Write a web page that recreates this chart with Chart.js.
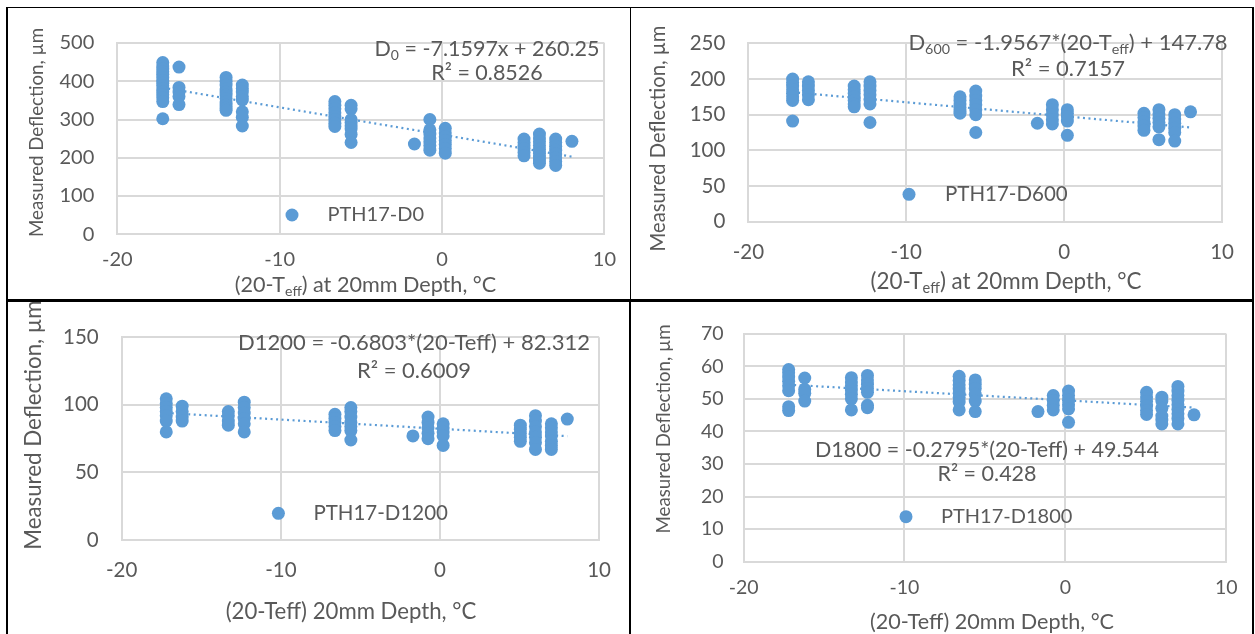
<!DOCTYPE html>
<html>
<head>
<meta charset="utf-8">
<script src="https://cdn.jsdelivr.net/npm/chart.js@4/dist/chart.umd.min.js"></script>
<style>
  body { margin: 0; background: #fff; width: 1255px; height: 634px; overflow: hidden; position: relative; }
  canvas { position: absolute; }
  .ln { position: absolute; background: #000; }
</style>
</head>
<body>
<canvas id="c1" width="621" height="290" style="left:8px;top:8px"></canvas>
<canvas id="c2" width="620" height="290" style="left:632px;top:8px"></canvas>
<canvas id="c3" width="621" height="332" style="left:8px;top:302px"></canvas>
<canvas id="c4" width="620" height="332" style="left:632px;top:302px"></canvas>

<div class="ln" style="left:6px;top:7px;width:1248px;height:1px"></div>
<div class="ln" style="left:6px;top:7px;width:2px;height:627px"></div>
<div class="ln" style="left:630px;top:7px;width:1px;height:292px"></div>
<div class="ln" style="left:629px;top:299px;width:2px;height:335px"></div>
<div class="ln" style="left:1252px;top:7px;width:2px;height:627px"></div>
<div class="ln" style="left:6px;top:299px;width:1248px;height:3px"></div>

<script>
// x position of each group of readings, (20-Teff) in °C
const colX = [-17.2, -16.2, -13.3, -12.3, -6.6, -5.6, -1.7, -0.75, 0.2, 5.05, 6.0, 7.0, 8.0];

// measured deflections per group (µm)
const d0Cols = [
  [449, 440, 432, 425, 418, 410, 402, 395, 388, 380, 372, 365, 357, 347, 302],
  [437, 384, 372, 360, 339],
  [410, 400, 390, 380, 372, 364, 355, 346, 338, 330, 324],
  [390, 381, 372, 360, 351, 320, 306, 283],
  [347, 337, 328, 318, 308, 300, 290, 282],
  [337, 328, 300, 292, 284, 276, 261, 240],
  [236],
  [300, 273, 262, 252, 242, 232, 220],
  [277, 265, 255, 245, 235, 224, 212],
  [249, 240, 232, 224, 214, 205],
  [262, 252, 242, 232, 222, 212, 202, 194, 186],
  [249, 240, 230, 220, 210, 200, 190, 180],
  [243]
];
const d600Cols = [
  [200, 195, 190, 185, 180, 175, 170, 141],
  [196, 190, 184, 178, 171],
  [190, 185, 180, 175, 170, 165, 161],
  [196, 190, 184, 178, 171, 165, 139],
  [175, 170, 165, 160, 155, 152],
  [183, 176, 170, 164, 157, 150, 125],
  [138],
  [164, 157, 150, 143, 137],
  [157, 152, 147, 141, 121],
  [152, 146, 140, 134, 128],
  [157, 151, 145, 139, 133, 115],
  [150, 144, 138, 131, 125, 113],
  [154]
];
const d1200Cols = [
  [104.5, 101, 98, 95, 92, 88, 80],
  [99, 95, 91, 88],
  [95, 92, 88, 85],
  [102, 98, 94, 90, 86, 80],
  [93, 90, 87, 84, 81],
  [98, 95, 91, 87, 84, 81, 74],
  [77],
  [91, 87, 83, 79, 75],
  [86, 83, 80, 77, 70],
  [85, 82, 79, 76, 73],
  [92, 88, 84, 80, 76, 72, 67],
  [86, 83, 80, 77, 73, 70, 67],
  [89.5]
];
const d1800Cols = [
  [59, 58, 56.7, 55.4, 54, 52.5, 47.6, 46.4],
  [56.4, 52.9, 51.7, 49.3],
  [56.5, 55.2, 54, 52.7, 51.4, 50, 46.6],
  [57.2, 55.8, 54.5, 53.2, 52, 48, 47.3],
  [56.9, 55.6, 54.3, 53, 51.7, 50.4, 49, 46.6],
  [55.8, 54.5, 53.2, 51.4, 49.3, 46.1],
  [46.1],
  [51, 49.5, 48, 46.6],
  [52.4, 51, 49.6, 48.2, 46.9, 42.8],
  [52, 50.6, 49.2, 47.8, 46.4, 45.2],
  [50.5, 49.3, 47.1, 44.7, 43.5, 42.3],
  [53.8, 52.4, 51, 49.6, 48.2, 46.8, 45.4, 44, 42.3],
  [45.1]
];

// linear trend lines printed on the charts
const seriesNames = ["PTH17-D0", "PTH17-D600", "PTH17-D1200", "PTH17-D1800"];
const slopes = [-7.1597, -1.9567, -0.6803, -0.2795];
const intercepts = [260.25, 147.78, 82.312, 49.544];
const yMaxes = [500, 250, 150, 70];
const ySteps = [100, 50, 50, 10];
const xTicks = [-20, -10, 0, 10];

const BLUE = "#5B9BD5";
const TXT = "#595959";
const FONT = "Lato, 'Open Sans', sans-serif";

// layout of each panel (page pixels)
const panels = [
  { id: "c1", left: 8, top: 8, w: 621, h: 290, plot: [117.3, 21.7, 614.7, 234.3], tick: 20, yPad: 23, xPad: 13,
    yTitle: { x: 37, y: 132.5, size: 18.7 },
    xTitle: { x: 365.5, y: 285, size: 21.6, segs: [["(20-T"], ["eff", 1], [") at 20mm Depth, °C"]] },
    eq: { x: 487, y: 49, y2: 73, size: 21.5, segs: [["D"], ["0", 1], [" = -7.1597x + 260.25"]], r2: "R² = 0.8526" },
    leg: { mx: 292, my: 215, tx: 327.5, size: 20 } },
  { id: "c2", left: 632, top: 8, w: 620, h: 290, plot: [748.4, 30, 1239, 221.7], tick: 20.5, yPad: 23, xPad: 18,
    yTitle: { x: 658, y: 138.5, size: 20.2 },
    xTitle: { x: 1006, y: 281.7, size: 22.4, segs: [["(20-T"], ["eff", 1], [") at 20mm Depth, °C"]] },
    eq: { x: 1068, y: 42.7, y2: 69.3, size: 22, segs: [["D"], ["600", 1], [" = -1.9567*(20-T"], ["eff", 1], [") + 147.78"]], r2: "R² = 0.7157" },
    leg: { mx: 909, my: 194.3, tx: 945, size: 20.5 } },
  { id: "c3", left: 8, top: 302, w: 621, h: 332, plot: [121.7, 319, 610.7, 540], tick: 20.5, yPad: 23, xPad: 18,
    yTitle: { x: 34, y: 425, size: 22.3 },
    xTitle: { x: 351, y: 611.7, size: 22.2, segs: [["(20-Teff) 20mm Depth, °C"]] },
    eq: { x: 414, y: 343.3, y2: 370.7, size: 22, segs: [["D1200 = -0.6803*(20-Teff) + 82.312"]], r2: "R² = 0.6009" },
    leg: { mx: 278.4, my: 513.3, tx: 313.4, size: 20.5 } },
  { id: "c4", left: 632, top: 302, w: 620, h: 332, plot: [743.6, 319, 1233.8, 561.7], tick: 19.5, yPad: 20, xPad: 14.5,
    yTitle: { x: 664, y: 429, size: 18.7 },
    xTitle: { x: 992, y: 621.7, size: 21.6, segs: [["(20-Teff) 20mm Depth, °C"]] },
    eq: { x: 987, y: 450, y2: 474.3, size: 21.5, segs: [["D1800 = -0.2795*(20-Teff) + 49.544"]], r2: "R² = 0.428" },
    leg: { mx: 906, my: 516.7, tx: 941, size: 20 } }
];

// text with subscript pieces, centred on (cx, cy)
function drawRich(ctx, segs, cx, cy, size) {
  const subSize = size * 0.65;
  let total = 0;
  segs.forEach(s => {
    ctx.font = (s[1] ? subSize : size) + "px " + FONT;
    total += ctx.measureText(s[0]).width;
  });
  let x = cx - total / 2;
  ctx.textAlign = "left";
  ctx.textBaseline = "middle";
  segs.forEach(s => {
    ctx.font = (s[1] ? subSize : size) + "px " + FONT;
    ctx.fillText(s[0], x, s[1] ? cy + size * 0.3 : cy);
    x += ctx.measureText(s[0]).width;
  });
}

const notesPlugin = {
  id: "notes",
  afterDraw(chart, args, p) {
    const ctx = chart.ctx;
    ctx.save();
    ctx.translate(-p.left, -p.top);
    ctx.fillStyle = TXT;
    // equation and R²
    drawRich(ctx, p.eq.segs, p.eq.x, p.eq.y, p.eq.size);
    drawRich(ctx, [[p.eq.r2]], p.eq.x, p.eq.y2, p.eq.size);
    // x title
    drawRich(ctx, p.xTitle.segs, p.xTitle.x, p.xTitle.y, p.xTitle.size);
    // y title
    ctx.save();
    ctx.translate(p.yTitle.x, p.yTitle.y);
    ctx.rotate(-Math.PI / 2);
    drawRich(ctx, [["Measured Deflection, µm"]], 0, 0, p.yTitle.size);
    ctx.restore();
    // legend
    ctx.fillStyle = BLUE;
    ctx.beginPath();
    ctx.arc(p.leg.mx, p.leg.my, 6.5, 0, Math.PI * 2);
    ctx.fill();
    ctx.fillStyle = TXT;
    ctx.font = p.leg.size + "px " + FONT;
    ctx.textAlign = "left";
    ctx.textBaseline = "middle";
    ctx.fillText(p.series, p.leg.tx, p.leg.my);
    ctx.restore();
  }
};

const allCols = [d0Cols, d600Cols, d1200Cols, d1800Cols];

panels.forEach((p, i) => {
  const pts = [];
  allCols[i].forEach((col, k) => col.forEach(v => pts.push({ x: colX[k], y: v })));
  const xMin = Math.min(...colX), xMax = Math.max(...colX);
  const trend = [xMin, xMax].map(x => ({ x: x, y: slopes[i] * x + intercepts[i] }));
  p.series = seriesNames[i];

  const [L, T, R, B] = p.plot;
  const ctx = document.getElementById(p.id).getContext("2d");
  new Chart(ctx, {
    type: "scatter",
    data: {
      datasets: [
        { label: seriesNames[i], data: pts, backgroundColor: BLUE, borderColor: BLUE, pointRadius: 6.5, pointHoverRadius: 6.5, borderWidth: 0 },
        { label: "trend", type: "line", data: trend, borderColor: BLUE, borderWidth: 2.2, borderDash: [2, 3.5], pointRadius: 0, fill: false }
      ]
    },
    options: {
      responsive: false,
      animation: false,
      devicePixelRatio: 1,
      layout: { padding: { left: 0, top: T - p.top, right: p.left + p.w - R, bottom: 0 } },
      plugins: { legend: { display: false }, tooltip: { enabled: false }, notes: p },
      scales: {
        x: {
          type: "linear", min: -20, max: 10,
          afterBuildTicks: s => { s.ticks = xTicks.map(v => ({ value: v })); },
          afterFit: s => { s.height = p.top + p.h - B; },
          grid: { color: "#d9d9d9", lineWidth: 2, drawTicks: false },
          border: { color: "#d9d9d9", width: 2 },
          ticks: { color: TXT, padding: p.xPad, font: { family: FONT, size: p.tick } }
        },
        y: {
          min: 0, max: yMaxes[i],
          ticks: { stepSize: ySteps[i], color: TXT, padding: p.yPad, font: { family: FONT, size: p.tick } },
          afterFit: s => { s.width = L - p.left; },
          grid: { color: "#d9d9d9", lineWidth: 2, drawTicks: false },
          border: { color: "#d9d9d9", width: 2 }
        }
      }
    },
    plugins: [notesPlugin]
  });
});
</script>
</body>
</html>
